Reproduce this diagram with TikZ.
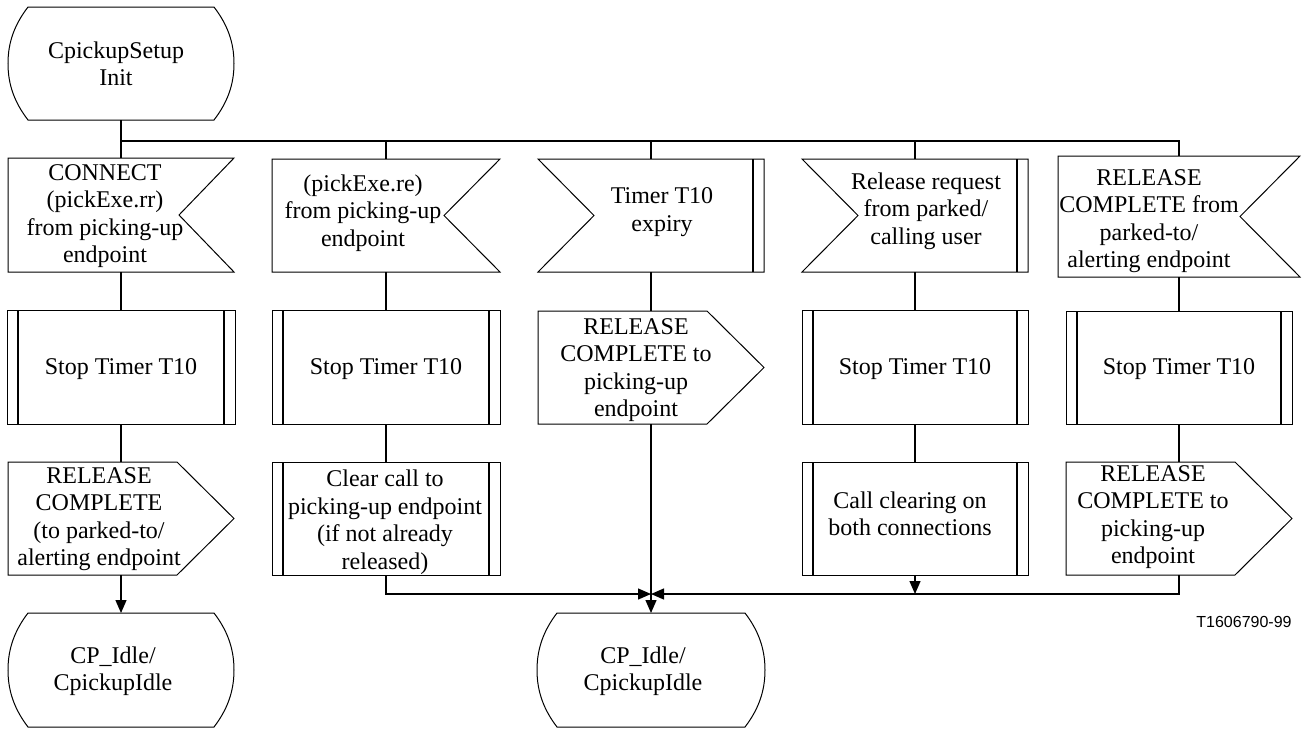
\documentclass[tikz,border=0pt]{standalone}
\usepackage{fontspec}
\setmainfont{Liberation Serif}
\newfontfamily\labelfont{Liberation Sans}
\usetikzlibrary{arrows.meta}
\newcommand\drawstate[1]{%
  \draw[outline] ([xshift=20pt]#1.north west) -- ([xshift=-20pt]#1.north east)
    .. controls ([xshift=-7pt,yshift=-17pt]#1.north east) and ([yshift=22pt]#1.east) .. (#1.east)
    .. controls ([yshift=-22pt]#1.east) and ([xshift=-7pt,yshift=17pt]#1.south east) .. ([xshift=-20pt]#1.south east)
    -- ([xshift=20pt]#1.south west)
    .. controls ([xshift=7pt,yshift=17pt]#1.south west) and ([yshift=-22pt]#1.west) .. (#1.west)
    .. controls ([yshift=22pt]#1.west) and ([xshift=7pt,yshift=-17pt]#1.north west) .. cycle;}
\newcommand\drawinput[2]{% notch on the right
  \draw[outline] (#1.north west) -- (#1.north east) -- ([xshift=-#2]#1.east) -- (#1.south east) -- (#1.south west) -- cycle;}
\newcommand\drawtimer[1]{% notch on the left, double line on the right
  \draw[outline] (#1.north west) -- (#1.north east) -- (#1.south east) -- (#1.south west) -- ([xshift=56pt]#1.west) -- cycle;
  \draw[inner] ([xshift=-11pt]#1.north east) -- ([xshift=-11pt]#1.south east);}
\newcommand\drawoutput[1]{%
  \draw[outline] (#1.north west) -- ([xshift=-57pt]#1.north east) -- (#1.east) -- ([xshift=-57pt]#1.south east) -- (#1.south west) -- cycle;}
\newcommand\drawproc[1]{%
  \draw[outline] (#1.north west) rectangle (#1.south east);
  \draw[inner] ([xshift=11pt]#1.north west) -- ([xshift=11pt]#1.south west);
  \draw[inner] ([xshift=-11pt]#1.north east) -- ([xshift=-11pt]#1.south east);}
\begin{document}
\begin{tikzpicture}[x=1pt,y=-1pt,
  frame/.style={draw=none,inner sep=0pt,outer sep=0pt,rectangle},
  outline/.style={line width=1pt,line join=miter},
  inner/.style={line width=2pt},
  conn/.style={line width=1.3pt},
  arr/.style={-{Triangle[length=13pt,width=11pt]}},
  txt/.style={align=center,inner sep=0pt,font=\fontsize{24}{27.5}\selectfont}]
\useasboundingbox (0,0) rectangle (1304,729);
% frames
\node[frame,minimum width=226pt,minimum height=113pt] (s0) at (121,63.5) {};
\node[frame,minimum width=226pt,minimum height=114pt] (c1in) at (121,215) {};
\node[frame,minimum width=228pt,minimum height=114pt] (c1p) at (121,367) {};
\node[frame,minimum width=226pt,minimum height=113pt] (c1out) at (121,518.5) {};
\node[frame,minimum width=226pt,minimum height=114pt] (s1) at (121,670) {};
\node[frame,minimum width=228pt,minimum height=113pt] (c2in) at (386,215.5) {};
\node[frame,minimum width=228pt,minimum height=114pt] (c2p1) at (386,367) {};
\node[frame,minimum width=228pt,minimum height=113pt] (c2p2) at (386,518.5) {};
\node[frame,minimum width=226pt,minimum height=113pt] (c3in) at (651,215.5) {};
\node[frame,minimum width=226pt,minimum height=113pt] (c3out) at (651,367.5) {};
\node[frame,minimum width=228pt,minimum height=114pt] (s2) at (651,670) {};
\node[frame,minimum width=226pt,minimum height=113pt] (c4in) at (915,215.5) {};
\node[frame,minimum width=226pt,minimum height=114pt] (c4p1) at (915,367) {};
\node[frame,minimum width=226pt,minimum height=113pt] (c4p2) at (915,518.5) {};
\node[frame,minimum width=242pt,minimum height=121pt] (c5in) at (1179,216.5) {};
\node[frame,minimum width=226pt,minimum height=113pt] (c5p) at (1179,367.5) {};
\node[frame,minimum width=226pt,minimum height=113pt] (c5out) at (1179,518.5) {};
% shapes
\drawstate{s0}
\drawinput{c1in}{55pt}
\drawproc{c1p}
\drawoutput{c1out}
\drawstate{s1}
\drawinput{c2in}{56pt}
\drawproc{c2p1}
\drawproc{c2p2}
\drawtimer{c3in}
\drawoutput{c3out}
\drawstate{s2}
\drawtimer{c4in}
\drawproc{c4p1}
\drawproc{c4p2}
\drawinput{c5in}{60pt}
\drawproc{c5p}
\drawoutput{c5out}
% texts
\node[txt] (s0t) at (116,64) {CpickupSetup\\Init};
\node[txt] (c1int) at (105,216) {CONNECT\\(pickExe.rr)\\from picking-up\\endpoint};
\node[txt] (c1pt) at (121,369) {Stop Timer T10};
\node[txt] (c1outt) at (99,519) {RELEASE\\COMPLETE\\(to parked-to/\\alerting endpoint};
\node[txt] (s1t) at (113,671) {CP\_Idle/\\CpickupIdle};
\node[txt] (c2int) at (363,213) {(pickExe.re)\\from picking-up\\endpoint};
\node[txt] (c2p1t) at (386,369) {Stop Timer T10};
\node[txt] (c2p2t) at (385,522) {Clear call to\\picking-up endpoint\\(if not already\\released)};
\node[txt] (c3int) at (662,212) {Timer T10\\expiry};
\node[txt] (c3outt) at (636,370) {RELEASE\\COMPLETE to\\picking-up\\endpoint};
\node[txt] (s2t) at (643,671) {CP\_Idle/\\CpickupIdle};
\node[txt] (c4int) at (926,211) {Release request\\from parked/\\calling user};
\node[txt] (c4p1t) at (915,369) {Stop Timer T10};
\node[txt] (c4p2t) at (910,514) {Call clearing on\\both connections};
\node[txt] (c5int) at (1149,221) {RELEASE\\COMPLETE from\\parked-to/\\alerting endpoint};
\node[txt] (c5pt) at (1179,369) {Stop Timer T10};
\node[txt] (c5outt) at (1153,517) {RELEASE\\COMPLETE to\\picking-up\\endpoint};
\node[inner sep=0pt,font=\labelfont\fontsize{16}{19}\selectfont] (ref) at (1244,622) {T1606790-99};
% connectors
\coordinate (bus) at (0,141);
\coordinate (mrg) at (0,594);
\draw[conn] (s0.south) -- (s0.south |- bus) -- (c5in.north |- bus) -- (c5in.north);
\foreach \n in {c1in,c2in,c3in,c4in} \draw[conn] (\n.north |- bus) -- (\n.north);
\draw[conn] (c1in.south) -- (c1p.north);
\draw[conn] (c1p.south) -- (c1out.north);
\draw[conn,arr] (c1out.south) -- (s1.north);
\draw[conn] (c2in.south) -- (c2p1.north);
\draw[conn] (c2p1.south) -- (c2p2.north);
\draw[conn,arr] (c2p2.south) -- (c2p2.south |- mrg) -- (s2.north |- mrg);
\draw[conn] (c3in.south) -- (c3out.north);
\draw[conn,arr] (c3out.south) -- (s2.north);
\draw[conn] (c4in.south) -- (c4p1.north);
\draw[conn] (c4p1.south) -- (c4p2.north);
\draw[conn,arr] (c4p2.south) -- (c4p2.south |- mrg);
\draw[conn] (c5in.south) -- (c5p.north);
\draw[conn] (c5p.south) -- (c5out.north);
\draw[conn,arr] (c5out.south) -- (c5out.south |- mrg) -- (s2.north |- mrg);
\end{tikzpicture}
\end{document}
